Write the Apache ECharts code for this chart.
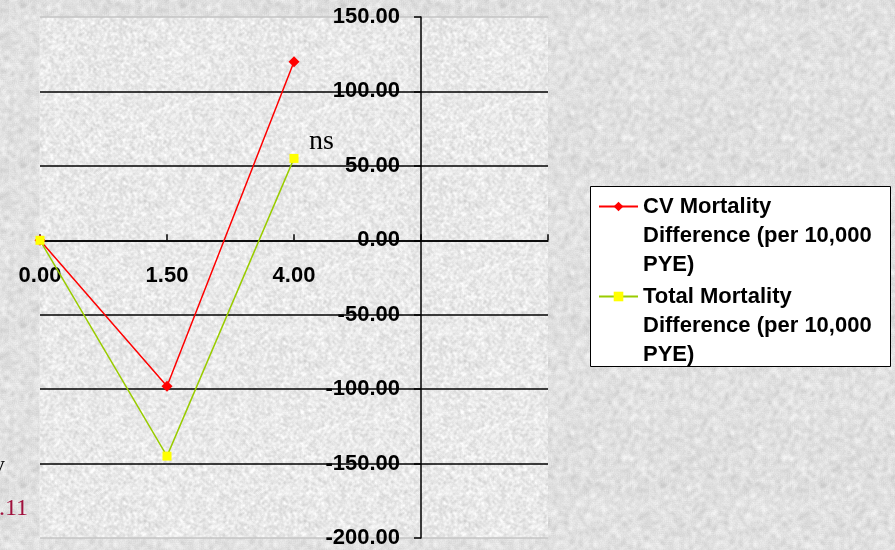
<!DOCTYPE html>
<html>
<head>
<meta charset="utf-8">
<script src="https://cdn.jsdelivr.net/npm/echarts@6/dist/echarts.min.js"></script>
<style>
  html, body { margin: 0; padding: 0; background: #dedede; }
  #chart { width: 895px; height: 550px; }
</style>
</head>
<body>
<div id="chart"></div>
<script>
// Dose categories shown along the horizontal axis
const categories = ['0.00', '1.50', '4.00'];
// Mortality differences per 10,000 person-years of exposure
const cvMortality = [0, -98, 120];
const totalMortality = [0, -145, 55];
// Vertical scale
const yMin = -200;
const yMax = 150;
const yStep = 50;
// Legend entries
const seriesNames = [
  'CV Mortality\nDifference (per 10,000\nPYE)',
  'Total Mortality\nDifference (per 10,000\nPYE)'
];

const boldFont = {
  fontFamily: '"Liberation Sans", Arial, sans-serif',
  fontWeight: 'bold',
  fontSize: 22,
  color: '#000'
};

// Mottled stone-like backdrop texture (deterministic pseudo-random grain)
function makeGrain(size, base, amp, seed, radius) {
  let s = seed >>> 0;
  const rnd = () => { s = (s * 1664525 + 1013904223) >>> 0; return s / 4294967296; };
  const raw = new Float32Array(size * size);
  for (let i = 0; i < raw.length; i++) raw[i] = rnd();
  const smooth = new Float32Array(size * size);
  for (let y = 0; y < size; y++) {
    for (let x = 0; x < size; x++) {
      let sum = 0, n = 0;
      for (let dy = -radius; dy <= radius; dy++) {
        for (let dx = -radius; dx <= radius; dx++) {
          sum += raw[((y + dy + size) % size) * size + ((x + dx + size) % size)];
          n++;
        }
      }
      smooth[y * size + x] = sum / n;
    }
  }
  const cv = document.createElement('canvas');
  cv.width = cv.height = size;
  const ctx = cv.getContext('2d');
  const img = ctx.createImageData(size, size);
  for (let i = 0; i < smooth.length; i++) {
    const fine = raw[i] - 0.5;
    const g = Math.max(0, Math.min(255, Math.round(base + (smooth[i] - 0.5) * amp * 4 + fine * amp * 0.4)));
    img.data[i * 4] = g; img.data[i * 4 + 1] = g; img.data[i * 4 + 2] = g; img.data[i * 4 + 3] = 255;
  }
  ctx.putImageData(img, 0, 0);
  return cv;
}

const outerGrain = makeGrain(160, 224, 22, 7, 2);
const plotGrain = makeGrain(160, 233, 17, 19, 1);
document.body.style.backgroundImage = 'url(' + outerGrain.toDataURL() + ')';

// Plot frame lines at the extremes are pale, inner grid lines are black
const gridLineCount = Math.round((yMax - yMin) / yStep) + 1;
const gridLineColors = [];
for (let i = 0; i < gridLineCount; i++) {
  gridLineColors.push(i === 0 || i === gridLineCount - 1 ? '#c4c4c4' : '#000');
}

const chart = echarts.init(document.getElementById('chart'), null, { renderer: 'canvas' });

chart.setOption({
  animation: false,
  backgroundColor: 'transparent',
  grid: {
    left: 40, right: 347, top: 17, bottom: 12,
    outerBoundsMode: 'none',
    containLabel: false,
    show: true,
    backgroundColor: { image: plotGrain, repeat: 'repeat' },
    borderWidth: 0
  },
  xAxis: {
    type: 'value',
    min: 0,
    max: categories.length + 1,
    interval: 1,
    position: 'bottom',
    axisLine: { onZero: false, lineStyle: { color: '#000', width: 1.5 } },
    axisTick: { inside: true, length: 6, lineStyle: { color: '#000', width: 1.5 } },
    axisLabel: {
      margin: 25,
      formatter: v => categories[v] || '',
      ...boldFont
    },
    splitLine: { show: false }
  },
  yAxis: {
    type: 'value',
    min: yMin, max: yMax, interval: yStep,
    position: 'left',
    offset: -381,
    axisLine: { show: true, onZero: false, lineStyle: { color: '#000', width: 1.5 } },
    axisTick: { show: true, length: 7, lineStyle: { color: '#000', width: 1.5 } },
    axisLabel: {
      margin: 21,
      formatter: v => v.toFixed(2),
      ...boldFont
    },
    splitLine: { show: true, lineStyle: { color: gridLineColors, width: 1.6 } }
  },
  legend: {
    orient: 'vertical',
    left: 598,
    top: 134,
    padding: 0,
    itemGap: -55,
    itemWidth: 39,
    itemHeight: 12,
    data: seriesNames,
    // two leading blank lines keep the marker level with the first text line
    formatter: name => ' \n \n' + name,
    textStyle: { ...boldFont, lineHeight: 29 }
  },
  graphic: [
    {
      type: 'rect', z: -1,
      shape: { x: 590.5, y: 186.5, width: 300, height: 180 },
      style: { fill: '#ffffff', stroke: '#000', lineWidth: 1 }
    },
    {
      // pale left edge of the plot frame
      type: 'line', z: -1,
      shape: { x1: 40.5, y1: 17, x2: 40.5, y2: 538 },
      style: { stroke: '#ffffff', lineWidth: 1.5 }
    },
    {
      type: 'text',
      style: { x: 309, y: 156, text: 'ns', fill: '#000', font: '28px "Liberation Serif", "Times New Roman", serif', verticalAlign: 'bottom' }
    },
    {
      type: 'text',
      style: { x: -7, y: 478, text: 'y', fill: '#000', font: '24px "Liberation Serif", "Times New Roman", serif', verticalAlign: 'bottom' }
    },
    {
      type: 'text',
      style: { x: -1, y: 521, text: '.11', fill: '#a0103c', font: '24px "Liberation Serif", "Times New Roman", serif', verticalAlign: 'bottom' }
    }
  ],
  series: [
    {
      name: seriesNames[0],
      type: 'line',
      data: cvMortality.map((v, i) => [i, v]),
      symbol: 'diamond',
      symbolSize: 11,
      lineStyle: { color: '#ff0000', width: 1.5 },
      itemStyle: { color: '#ff0000' }
    },
    {
      name: seriesNames[1],
      type: 'line',
      data: totalMortality.map((v, i) => [i, v]),
      symbol: 'rect',
      symbolSize: 9,
      lineStyle: { color: '#99cc00', width: 1.5 },
      itemStyle: { color: '#ffff00' }
    }
  ]
});

// The category axis crosses the value axis at zero: shift it up from the
// bottom edge by the distance the value scale puts between its minimum and 0.
const zeroY = chart.convertToPixel({ yAxisIndex: 0 }, 0);
const minY = chart.convertToPixel({ yAxisIndex: 0 }, yMin);
chart.setOption({ xAxis: { offset: zeroY - minY } });
</script>
</body>
</html>
